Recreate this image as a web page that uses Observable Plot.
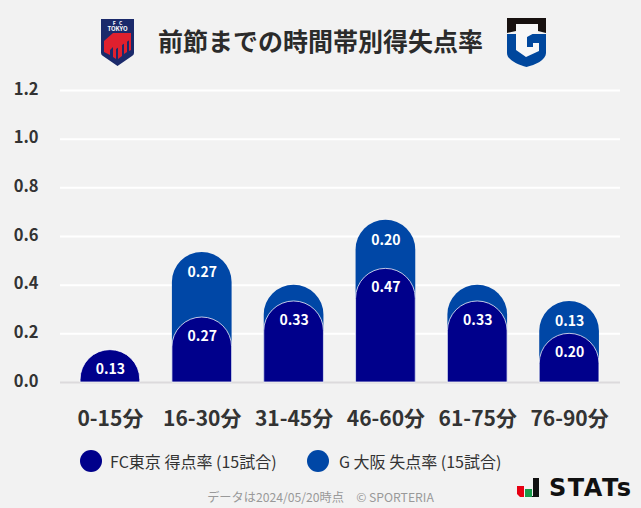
<!DOCTYPE html>
<html lang="ja"><head><meta charset="utf-8">
<script src="https://cdn.jsdelivr.net/npm/d3@7"></script>
<script src="https://cdn.jsdelivr.net/npm/@observablehq/plot@0.6"></script>
<style>
html,body{margin:0;padding:0;background:#f2f2f2;width:641px;height:508px;overflow:hidden;font-family:"Noto Sans CJK JP","Noto Sans",sans-serif}
.a{position:absolute;white-space:nowrap}
#chart{position:absolute;left:0;top:70px}
#chart svg{background:transparent;display:block}
.dot{position:absolute;width:22px;height:22px;border-radius:50%}
</style></head><body>
<div class="a" style="left:0;width:641px;top:22px;text-align:center;font-size:25px;font-weight:700;color:#2b2b2b;line-height:36px">前節までの時間帯別得失点率</div>
<svg class="a" style="left:101px;top:19px" width="33" height="47" viewBox="0 0 33 47">
<path d="M0 0H33V34Q33 36 31 37L16.500 47L2 37Q0 36 0 34Z" fill="#1b2a6b"/>
<path d="M3 14H30V20L15 30V40L12 38V28L9 31V36L3 33V22L12 14ZM17 26L21 23V37L17 40ZM23 22L26 20V33L23 35ZM28 19L30 18V31L28 32Z" fill="#e0202e"/>
<text x="16.500" y="5.500" font-size="5" font-weight="700" fill="#fff" text-anchor="middle">F&#160;&#160;&#160;C</text>
<text x="16.500" y="12" font-size="6" font-weight="700" fill="#fff" text-anchor="middle">TOKYO</text>
</svg>
<svg class="a" style="left:507px;top:18px" width="39" height="50" viewBox="0 0 39 50">
<path d="M0 16L39 16V35C39 42 28 47 19.500 49C11 47 0 42 0 35Z" fill="#00479d"/>
<path d="M9 6H31V13L20 19V29H26V25H32V33L19 39L9 32Z" fill="#f7f7f7"/>
<path d="M0 0H39V15L31 13V6H9V13L0 15Z" fill="#17110f"/>
</svg>
<div id="chart"></div>
<div class="dot" style="left:80px;top:450px;background:#00008b"></div>
<div class="a" style="left:110px;top:450px;font-size:16px;line-height:22px;color:#333">FC東京 得点率 (15試合)</div>
<div class="dot" style="left:307px;top:450px;background:#0047a6"></div>
<div class="a" style="left:339px;top:450px;font-size:16px;line-height:22px;color:#333">G 大阪 失点率 (15試合)</div>
<div class="a" style="left:0;width:641px;top:488px;text-align:center;font-size:12.2px;line-height:18px;color:#999">データは2024/05/20時点　© SPORTERIA</div>
<svg class="a" style="left:517px;top:477px" width="24" height="22" viewBox="0 0 24 22">
<path d="M0 9H7V20H3L0 17Z" fill="#e60012"/><rect x="8" y="12" width="7" height="8" fill="#1a9b4b"/><path d="M16 1H22V20H15V19H16Z" fill="#111"/>
</svg>
<div class="a" style="left:549px;top:472px;font-family:'DejaVu Sans',sans-serif;font-size:24px;font-weight:700;line-height:32px;color:#111;letter-spacing:1.5px">STATs</div>
<script>
const periods = ["0-15分","16-30分","31-45分","46-60分","61-75分","76-90分"];
const tokyoScored = [0.133,0.267,0.333,0.467,0.333,0.2];
const gambaConceded = [0,0.267,0.067,0.2,0.067,0.133];
const tokyoLabels = ["0.13","0.27","0.33","0.47","0.33","0.20"];
const gambaLabels = ["","0.27","","0.20","","0.13"];
const yTicks = [0,0.2,0.4,0.6,0.8,1.0,1.2];
const rows = periods.map((p,i)=>({p,a:tokyoScored[i],b:gambaConceded[i],t:tokyoScored[i]+gambaConceded[i],la:tokyoLabels[i],lb:gambaLabels[i]}));
const numFont = {fontFamily:'"Noto Sans CJK JP","Noto Sans",sans-serif'};
const chart = Plot.plot({
  width:641,height:365,marginLeft:60,marginRight:21,marginTop:20,marginBottom:53,
  style:{background:"transparent",...numFont},
  x:{domain:periods,range:[64,615],paddingInner:0.35,paddingOuter:0.175,round:false,label:null},
  y:{domain:[0,1.2],range:[312,20],label:null},
  marks:[
    Plot.ruleY(yTicks.filter(d=>d>0),{stroke:"#fff",strokeWidth:2,strokeOpacity:1}),
    Plot.ruleY([0],{stroke:"#dcdadc",strokeWidth:2}),
    Plot.axisY({ticks:yTicks,tickSize:0,tickPadding:22,tickFormat:".1f",fontSize:16.5,fontWeight:700,fill:"#333",label:null,dy:-1}),
    Plot.axisX({tickSize:0,tickPadding:29,fontSize:21,fontWeight:700,fill:"#333",label:null}),
    Plot.barY(rows.filter(d=>d.b>0),{x:"p",y:"t",fill:"#0047a6",ry1:30}),
    Plot.barY(rows,{x:"p",y:"a",fill:"#00008b",stroke:"#fff",strokeWidth:0.75,ry1:30}),
    Plot.text(rows,{x:"p",y:"a",text:"la",dy:19,fill:"#fff",fontSize:14,fontWeight:700}),
    Plot.text(rows.filter(d=>d.lb),{x:"p",y:"t",text:"lb",dy:20,fill:"#fff",fontSize:14,fontWeight:700})
  ]
});
document.getElementById("chart").append(chart);
</script>
</body></html>
